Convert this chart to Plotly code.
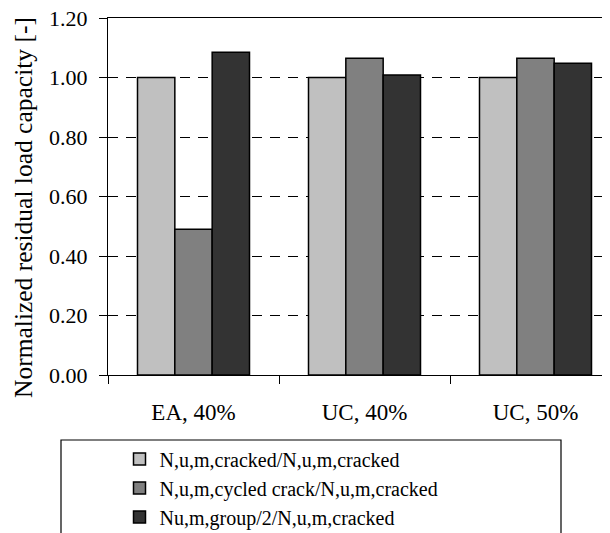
import plotly.graph_objects as go

categories = ["EA, 40%", "UC, 40%", "UC, 50%"]
series_names = [
    "N,u,m,cracked/N,u,m,cracked",
    "N,u,m,cycled crack/N,u,m,cracked",
    "Nu,m,group/2/N,u,m,cracked",
]
values_cracked = [1.00, 1.00, 1.00]
values_cycled = [0.49, 1.065, 1.065]
values_group = [1.085, 1.008, 1.048]
colors = ["#c0c0c0", "#808080", "#333333"]
y_ticks = [0.0, 0.2, 0.4, 0.6, 0.8, 1.0, 1.2]
y_tick_labels = ["0.00", "0.20", "0.40", "0.60", "0.80", "1.00", "1.20"]

FONT = "Liberation Serif, Times New Roman, serif"

# page body adds an 8px offset; work in screen pixels and convert
OFF = 8
W, H = 610, 533
L, T, B = 108 - OFF, 18 - OFF, 375 - OFF  # plot area edges (figure px)
PW = W - L
PH = B - T

def px_x(sx):
    return (sx - OFF - L) / PW

def px_y(sy):
    return (B - (sy - OFF)) / PH

fig = go.Figure()
for name, vals, col in zip(series_names, [values_cracked, values_cycled, values_group], colors):
    fig.add_trace(go.Bar(
        x=categories, y=vals, name=name,
        marker=dict(color=col, line=dict(color="#000000", width=1.5)),
    ))

cat_w = 171
x_end = -0.5 + PW / cat_w

fig.update_layout(
    width=W, height=H,
    margin=dict(l=L, r=0, t=T, b=H - B, autoexpand=False),
    paper_bgcolor="white", plot_bgcolor="white",
    barmode="group", bargap=0.345, bargroupgap=0,
    font=dict(family=FONT, size=21, color="#000000"),
    showlegend=True,
    legend=dict(
        x=px_x(119.5), y=px_y(439.5), xanchor="left", yanchor="top",
        bgcolor="rgba(0,0,0,0)", borderwidth=0,
        font=dict(family=FONT, size=20, color="#000000"),
        tracegroupgap=0, itemwidth=30,
    ),
    xaxis=dict(
        type="category", range=[-0.5, x_end],
        showline=True, linecolor="#000000", linewidth=1.2, mirror=True,
        ticks="outside", tickson="boundaries", ticklen=8, tickcolor="#000000", tickwidth=1.2,
        showgrid=False, tickfont=dict(family=FONT, size=23),
        ticklabelstandoff=16, ticklabeloverflow="allow",
    ),
    yaxis=dict(
        range=[0, 1.2], tickvals=y_ticks, ticktext=y_tick_labels,
        showline=True, linecolor="#000000", linewidth=1.2,
        ticks="outside", ticklen=8, tickcolor="#000000", tickwidth=1.2,
        showgrid=True, gridcolor="#000000", gridwidth=1, griddash="10px,8px",
        zeroline=False, tickfont=dict(family=FONT, size=22),
        ticklabelstandoff=7, ticklabeloverflow="allow",
    ),
    shapes=[dict(
        type="rect", xref="paper", yref="paper",
        x0=px_x(61), x1=px_x(561), y0=px_y(440), y1=px_y(560),
        line=dict(color="#000000", width=1.2), fillcolor="rgba(0,0,0,0)", layer="above",
    )],
    annotations=[dict(
        text="Normalized residual load capacity [-]", textangle=-90,
        xref="paper", yref="paper", x=px_x(23), y=px_y(208),
        xanchor="center", yanchor="middle", showarrow=False,
        font=dict(family=FONT, size=25.5, color="#000000"),
    )],
)

fig.write_html("out.html")
